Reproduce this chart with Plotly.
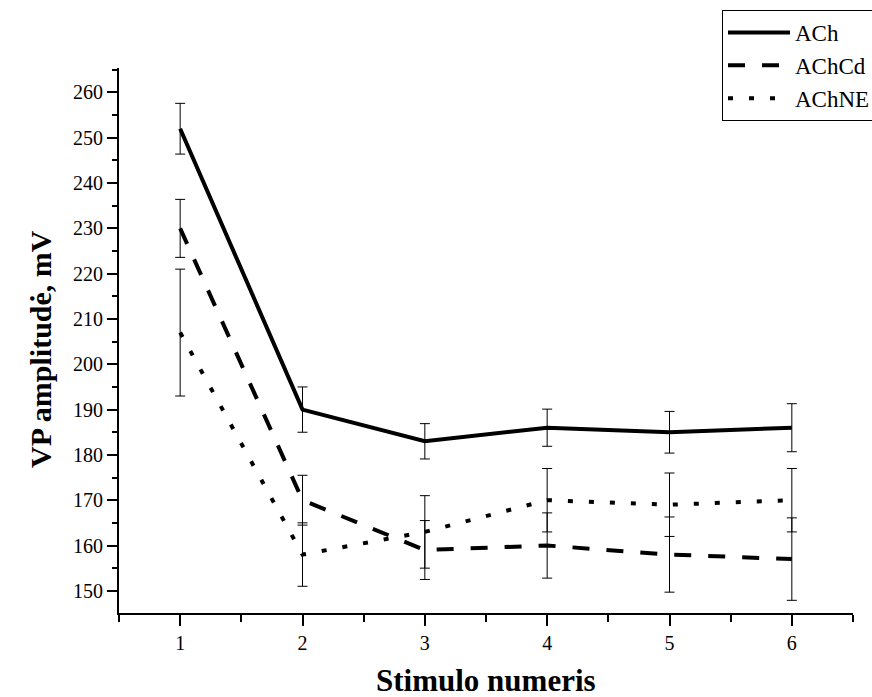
import plotly.graph_objects as go

stimuli = [1, 2, 3, 4, 5, 6]
series_names = ["ACh", "AChCd", "AChNE"]
ach = [252, 190, 183, 186, 185, 186]
ach_err = [5.6, 5.0, 3.9, 4.1, 4.6, 5.3]
achcd = [230, 170, 159, 160, 158, 157]
achcd_err = [6.4, 5.5, 6.5, 7.2, 8.3, 9.1]
achne = [207, 158, 163, 170, 169, 170]
achne_err = [14, 7, 8, 7, 7, 7]
y_ticks = [150, 160, 170, 180, 190, 200, 210, 220, 230, 240, 250, 260]

FONT = "Liberation Serif"

fig = go.Figure()
styles = [("solid", ach, ach_err), ("17px,17px", achcd, achcd_err), ("5px,16px", achne, achne_err)]
for name, (dash, vals, errs) in zip(series_names, styles):
    fig.add_trace(go.Scatter(
        x=stimuli, y=vals, name=name, mode="lines",
        line=dict(color="black", width=4, dash=dash),
        error_y=dict(type="data", array=errs, visible=True, color="black", thickness=1, width=5),
    ))

W, H = 872, 697
ml, mr, mt, mb = 119, 19, 68, 84
pw, ph = W - ml - mr, H - mt - mb

fig.update_layout(
    width=W, height=H,
    margin=dict(l=ml, r=mr, t=mt, b=mb, autoexpand=False),
    paper_bgcolor="white", plot_bgcolor="white",
    font=dict(family=FONT, color="black", size=20),
    showlegend=True,
    legend=dict(
        x=(722 - ml) / pw, y=(H - mb - 10) / ph, xanchor="left", yanchor="top",
        bordercolor="black", borderwidth=1, bgcolor="white",
        font=dict(family=FONT, size=23, color="black"),
        itemwidth=62, tracegroupgap=0,
    ),
    xaxis=dict(
        range=[0.5, 6.5], tickvals=stimuli, ticktext=[str(s) for s in stimuli],
        showgrid=False, zeroline=False, showline=True, linecolor="black", linewidth=2,
        ticks="outside", ticklen=11, tickwidth=2, tickcolor="black",
        tickfont=dict(family=FONT, size=20),
        minor=dict(dtick=0.5, tick0=0.5, ticks="outside", ticklen=7, tickwidth=2, tickcolor="black"),
    ),
    yaxis=dict(
        range=[145.1, 265.4], tickvals=y_ticks, ticktext=[str(v) for v in y_ticks],
        showgrid=False, zeroline=False, showline=True, linecolor="black", linewidth=2,
        ticks="outside", ticklen=10, tickwidth=2, tickcolor="black",
        tickfont=dict(family=FONT, size=20),
        minor=dict(dtick=5, tick0=145, ticks="outside", ticklen=5, tickwidth=2, tickcolor="black"),
    ),
    annotations=[
        dict(text="<b>Stimulo numeris</b>", xref="paper", yref="paper",
             x=0.5, y=-(680 - (H - mb)) / ph, xanchor="center", yanchor="middle",
             showarrow=False, font=dict(family=FONT, size=31, color="black")),
        dict(text="<b>VP amplitudė, mV</b>", xref="paper", yref="paper",
             x=-(ml - 40) / pw, y=(H - mb - 349) / ph, xanchor="center", yanchor="middle",
             textangle=-90, showarrow=False, font=dict(family=FONT, size=30, color="black")),
    ],
)

fig.write_html("out.html")
